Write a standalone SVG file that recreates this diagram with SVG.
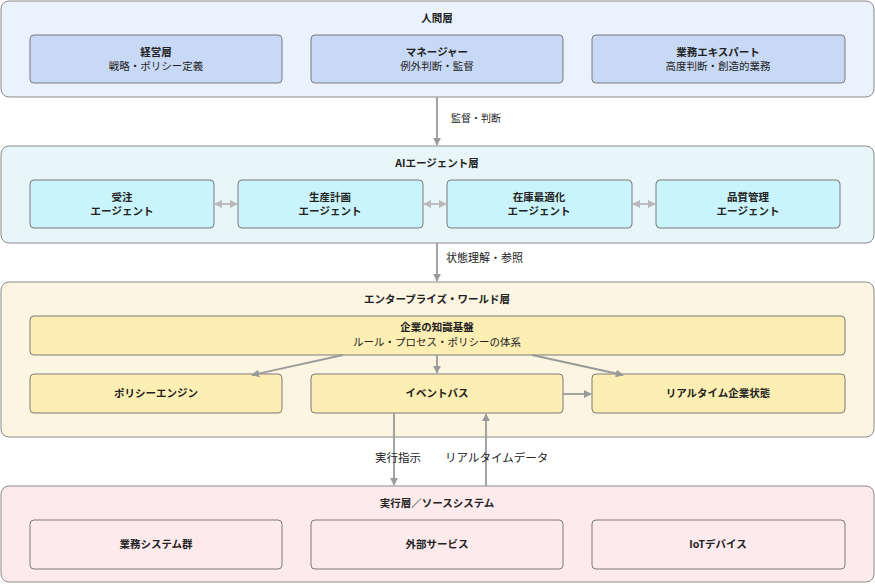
<svg xmlns="http://www.w3.org/2000/svg" width="875" height="584" viewBox="0 0 875 584">
<defs>
<style>
text{font-family:"Noto Sans CJK JP","Noto Sans",sans-serif;fill:#222;text-anchor:middle}
.t{font-size:10.5px;font-weight:bold}
.b{font-size:10.5px;font-weight:bold}
.s{font-size:10.5px}
.lbl{font-size:11px;text-anchor:start}
.layer{stroke:#8a8a8a;stroke-width:1}
.node{stroke:#7a7a7a;stroke-width:1}
.c{stroke:#9a9a9a;stroke-width:1.8;fill:none}
.c2{stroke:#b8b8b8;stroke-width:1.8;fill:none}
</style>
<marker id="ah" viewBox="0 0 10 10" refX="9" refY="5" markerWidth="8" markerHeight="8" markerUnits="userSpaceOnUse" orient="auto-start-reverse"><path d="M0,0 L10,5 L0,10 z" fill="#9a9a9a"/></marker>
<marker id="ah2" viewBox="0 0 10 10" refX="9" refY="5" markerWidth="8" markerHeight="8" markerUnits="userSpaceOnUse" orient="auto-start-reverse"><path d="M0,0 L10,5 L0,10 z" fill="#b8b8b8"/></marker>
</defs>
<rect width="875" height="584" fill="#fff"/>

<g id="layer-human">
<rect class="layer" x="1" y="1" width="873" height="96" rx="8" fill="#eaf2fe"/>
<text class="t" x="437" y="22">人間層</text>
</g>
<g id="n-keiei"><rect class="node" x="30" y="35" width="252" height="48" rx="4" fill="#c8d9f6"/><text class="b" x="156" y="56">経営層</text><text class="s" x="156" y="70">戦略・ポリシー定義</text></g>
<g id="n-manager"><rect class="node" x="311" y="35" width="252" height="48" rx="4" fill="#c8d9f6"/><text class="b" x="437" y="56">マネージャー</text><text class="s" x="437" y="70">例外判断・監督</text></g>
<g id="n-expert"><rect class="node" x="592" y="35" width="253" height="48" rx="4" fill="#c8d9f6"/><text class="b" x="718" y="56">業務エキスパート</text><text class="s" x="718" y="70">高度判断・創造的業務</text></g>

<g id="layer-ai">
<rect class="layer" x="1" y="146" width="873" height="97" rx="8" fill="#e9f6f9"/>
<text class="t" x="437" y="167">AIエージェント層</text>
</g>
<g id="n-order"><rect class="node" x="30" y="180" width="184" height="48" rx="4" fill="#c9f4fb"/><text class="b" x="122" y="201">受注</text><text class="b" x="122" y="215">エージェント</text></g>
<g id="n-plan"><rect class="node" x="238" y="180" width="185" height="48" rx="4" fill="#c9f4fb"/><text class="b" x="330" y="201">生産計画</text><text class="b" x="330" y="215">エージェント</text></g>
<g id="n-stock"><rect class="node" x="447" y="180" width="185" height="48" rx="4" fill="#c9f4fb"/><text class="b" x="539" y="201">在庫最適化</text><text class="b" x="539" y="215">エージェント</text></g>
<g id="n-quality"><rect class="node" x="656" y="180" width="184" height="48" rx="4" fill="#c9f4fb"/><text class="b" x="748" y="201">品質管理</text><text class="b" x="748" y="215">エージェント</text></g>

<g id="layer-world">
<rect class="layer" x="1" y="282" width="873" height="155" rx="8" fill="#fcf5e2"/>
<text class="t" x="437" y="303">エンタープライズ・ワールド層</text>
</g>
<g id="n-knowledge"><rect class="node" x="30" y="316" width="815" height="39" rx="4" fill="#fdeeb3"/><text class="b" x="437" y="331">企業の知識基盤</text><text class="s" x="437" y="346">ルール・プロセス・ポリシーの体系</text></g>
<g id="n-policy"><rect class="node" x="30" y="374" width="252" height="39" rx="4" fill="#fdeeb3"/><text class="b" x="156" y="397">ポリシーエンジン</text></g>
<g id="n-eventbus"><rect class="node" x="311" y="374" width="252" height="39" rx="4" fill="#fdeeb3"/><text class="b" x="437" y="397">イベントバス</text></g>
<g id="n-realtime"><rect class="node" x="592" y="374" width="253" height="39" rx="4" fill="#fdeeb3"/><text class="b" x="718" y="397">リアルタイム企業状態</text></g>

<g id="layer-exec">
<rect class="layer" x="1" y="486" width="873" height="96" rx="8" fill="#fdeaec"/>
<text class="t" x="437" y="507">実行層／ソースシステム</text>
</g>
<g id="n-biz"><rect class="node" x="30" y="520" width="252" height="49" rx="4" fill="#fdeaec"/><text class="b" x="156" y="548">業務システム群</text></g>
<g id="n-ext"><rect class="node" x="311" y="520" width="252" height="49" rx="4" fill="#fdeaec"/><text class="b" x="437" y="548">外部サービス</text></g>
<g id="n-iot"><rect class="node" x="592" y="520" width="253" height="49" rx="4" fill="#fdeaec"/><text class="b" x="718" y="548">IoTデバイス</text></g>

<g id="connectors">
<line class="c" x1="437" y1="97" x2="437" y2="145" marker-end="url(#ah)"/>
<text class="lbl" x="451" y="122" style="font-size:10px">監督・判断</text>
<line class="c2" x1="215" y1="204" x2="237" y2="204" marker-start="url(#ah2)" marker-end="url(#ah2)"/>
<line class="c2" x1="424" y1="204" x2="446" y2="204" marker-start="url(#ah2)" marker-end="url(#ah2)"/>
<line class="c2" x1="633" y1="204" x2="655" y2="204" marker-start="url(#ah2)" marker-end="url(#ah2)"/>
<line class="c" x1="437" y1="243" x2="437" y2="281" marker-end="url(#ah)"/>
<text class="lbl" x="446" y="262">状態理解・参照</text>
<line class="c" x1="343" y1="355" x2="252" y2="375" marker-end="url(#ah)"/>
<line class="c" x1="437" y1="355" x2="437" y2="373" marker-end="url(#ah)"/>
<line class="c" x1="532" y1="355" x2="623" y2="375" marker-end="url(#ah)"/>
<line class="c" x1="563" y1="394" x2="591" y2="394" marker-end="url(#ah)"/>
<line class="c" x1="394" y1="413" x2="394" y2="485" marker-end="url(#ah)"/>
<text class="lbl" x="375" y="462" style="font-size:11.5px">実行指示</text>
<line class="c" x1="486" y1="486" x2="486" y2="414" marker-end="url(#ah)"/>
<text class="lbl" x="445" y="462" style="font-size:11.5px">リアルタイムデータ</text>
</g>
</svg>
